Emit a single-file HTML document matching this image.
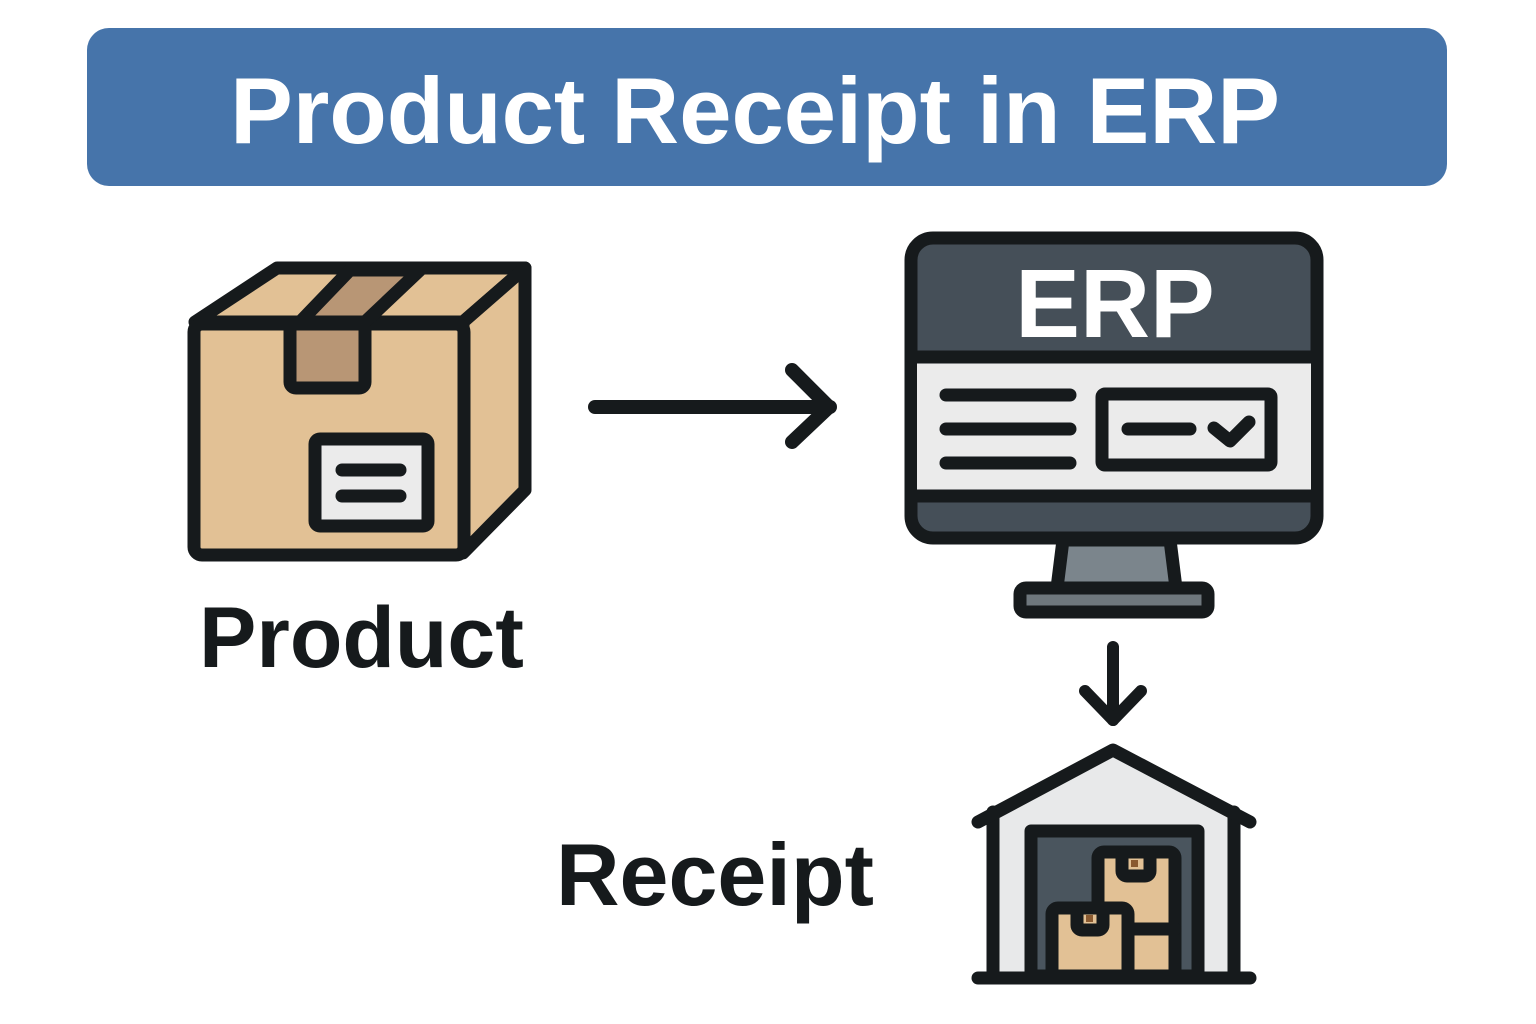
<!DOCTYPE html>
<html><head><meta charset="utf-8"><style>
html,body{margin:0;padding:0;background:#fff;}
svg{display:block;}
text{font-family:"Liberation Sans",sans-serif;font-weight:bold;}
</style></head><body>
<svg width="1536" height="1024" viewBox="0 0 1536 1024" xmlns="http://www.w3.org/2000/svg">
<rect x="87" y="28" width="1360" height="158" rx="22" fill="#4674aa"/>
<text x="755" y="143" font-size="94" fill="#fff" text-anchor="middle">Product Receipt in ERP</text>

<g stroke="#161a1c" stroke-width="13" stroke-linejoin="round" stroke-linecap="round">
<!-- box -->
<polygon points="195,322 277,268 525,268 463,322" fill="#e2c195"/>
<polygon points="463,322 525,268 525,490 463,553" fill="#e2c195"/>
<rect x="194" y="324" width="270" height="231" rx="8" fill="#e2c195"/>
<polygon points="300,322 350,270 420,270 365,322" fill="#b89675"/>
<rect x="290" y="324" width="75" height="64" rx="6" fill="#b89675"/>
<rect x="315" y="439" width="113" height="87" rx="5" fill="#ebebeb"/>
<line x1="342" y1="470" x2="400" y2="470"/>
<line x1="342" y1="496" x2="400" y2="496"/>

<!-- arrow right -->
<line x1="595" y1="407" x2="830" y2="407" stroke-width="14"/>
<polyline points="792,370 829,407 792,442" fill="none" stroke-width="14"/>

<!-- monitor -->
<polygon points="1063,540 1170,540 1176,588 1057,588" fill="#7b858c"/>
<rect x="1020" y="588" width="188" height="24" rx="6" fill="#6e777d"/>
<rect x="911" y="238" width="406" height="300" rx="22" fill="#454f58"/>
<rect x="917" y="357" width="394" height="138" fill="#ebebeb" stroke="none"/>
<line x1="911" y1="357" x2="1317" y2="357"/>
<line x1="911" y1="496" x2="1317" y2="496"/>
<line x1="946" y1="395" x2="1070" y2="395"/>
<line x1="946" y1="429" x2="1070" y2="429"/>
<line x1="946" y1="463" x2="1070" y2="463"/>
<rect x="1102" y="394" width="169" height="71" rx="3" fill="#ebebeb"/>
<line x1="1128" y1="429" x2="1190" y2="429"/>
<polyline points="1214,428 1230,441 1249,422" fill="none"/>

<!-- down arrow -->
<line x1="1113" y1="647" x2="1113" y2="720" stroke-width="12"/>
<polyline points="1085,691 1113,720 1141,691" fill="none" stroke-width="12"/>

<!-- warehouse -->
<polygon points="993,812 1113,752 1233,812 1233,976 993,976" fill="#e8e9ea" stroke="none"/>
<line x1="993" y1="812" x2="993" y2="976"/>
<line x1="1234" y1="812" x2="1234" y2="976"/>
<polyline points="978,822 1113,750 1250,822" fill="none"/>
<rect x="1031" y="831" width="167" height="145" fill="#4a555e"/>
<rect x="1098" y="852" width="77" height="124" rx="6" fill="#e2c195"/>
<rect x="1122" y="852" width="28" height="24" rx="5" fill="#e2c195"/>
<rect x="1052" y="908" width="76" height="68" rx="6" fill="#e2c195"/>
<rect x="1077" y="908" width="26" height="22" rx="5" fill="#e2c195"/>
<line x1="1128" y1="929" x2="1175" y2="929"/>
<line x1="978" y1="978" x2="1250" y2="978"/>
</g>
<rect x="1131" y="860" width="7" height="7" fill="#8a5a30"/>
<rect x="1086" y="915" width="7" height="7" fill="#8a5a30"/>

<text x="199" y="667" font-size="86" fill="#161a1c">Product</text>
<text x="556" y="905" font-size="88" fill="#161a1c">Receipt</text>
<text x="1115" y="337" font-size="97" fill="#fff" text-anchor="middle">ERP</text>
</svg>
</body></html>
